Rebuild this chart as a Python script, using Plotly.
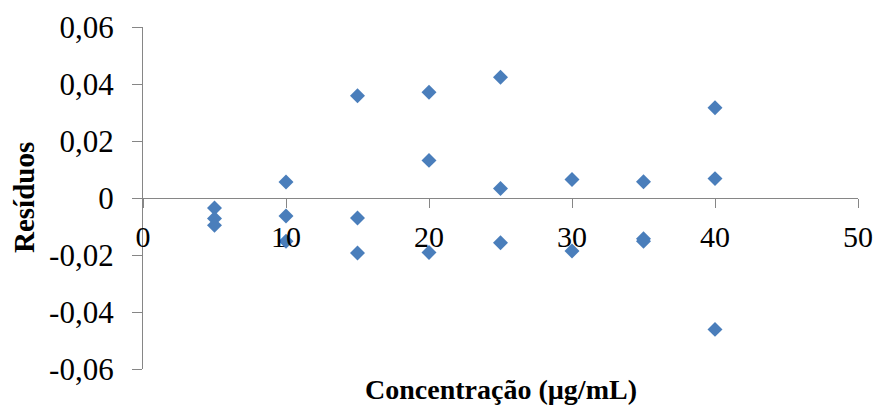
import plotly.graph_objects as go

concentracao = [5, 5, 5, 10, 10, 10, 15, 15, 15, 20, 20, 20, 25, 25, 25,
                30, 30, 35, 35, 35, 40, 40, 40]
residuos = [-0.0035, -0.0072, -0.0096,
            0.0056, -0.0063, -0.0152,
            0.0359, -0.0070, -0.0193,
            0.0371, 0.0132, -0.0191,
            0.0424, 0.0033, -0.0157,
            0.0065, -0.0186,
            0.0057, -0.0143, -0.0152,
            0.0317, 0.0068, -0.0461]

x_ticks = [0, 10, 20, 30, 40, 50]
x_ticktext = ["0", "10", "20", "30", "40", "50"]
y_ticks = [-0.06, -0.04, -0.02, 0, 0.02, 0.04, 0.06]
y_ticktext = ["-0,06", "-0,04", "-0,02", "0", "0,02", "0,04", "0,06"]

x_title = "Concentração (µg/mL)"
y_title = "Resíduos"

FONT = "Liberation Serif, Times New Roman, serif"
AXIS_COLOR = "#868686"

fig = go.Figure()
fig.add_trace(go.Scatter(
    x=concentracao, y=residuos, mode="markers",
    marker=dict(symbol="diamond", size=11.5, color="#4A7EBB", line=dict(width=0)),
    showlegend=False, cliponaxis=False,
))

fig.update_layout(
    width=877, height=405,
    margin=dict(l=143, r=19, t=27, b=36, autoexpand=False),
    paper_bgcolor="white", plot_bgcolor="white",
    font=dict(family=FONT, color="black", size=30),
    xaxis=dict(
        range=[0, 50], tickvals=x_ticks, ticktext=x_ticktext,
        anchor="free", position=0.5, automargin=False,
        showline=True, linecolor=AXIS_COLOR, linewidth=1.3,
        ticks="outside", ticklen=9, tickcolor=AXIS_COLOR, tickwidth=1.3,
        showgrid=False, zeroline=False,
        ticklabelstandoff=3,
        tickfont=dict(family=FONT, size=30, color="black"),
    ),
    yaxis=dict(
        range=[-0.06, 0.06], tickvals=y_ticks, ticktext=y_ticktext,
        automargin=False,
        showline=True, linecolor=AXIS_COLOR, linewidth=1.3,
        ticks="outside", ticklen=10, tickcolor=AXIS_COLOR, tickwidth=1.3,
        showgrid=False, zeroline=False,
        ticklabelstandoff=12,
        tickfont=dict(family=FONT, size=31, color="black"),
    ),
    annotations=[
        dict(text="<b>" + x_title + "</b>", xref="paper", yref="paper",
             x=0.5, y=0, yshift=-20, xanchor="center", yanchor="middle",
             showarrow=False, font=dict(family=FONT, size=28, color="black")),
        dict(text="<b>" + y_title + "</b>", xref="paper", yref="paper",
             x=0, xshift=-119, y=0.5, xanchor="center", yanchor="middle",
             textangle=-90, showarrow=False,
             font=dict(family=FONT, size=29, color="black")),
    ],
)

fig.write_html("out.html")
